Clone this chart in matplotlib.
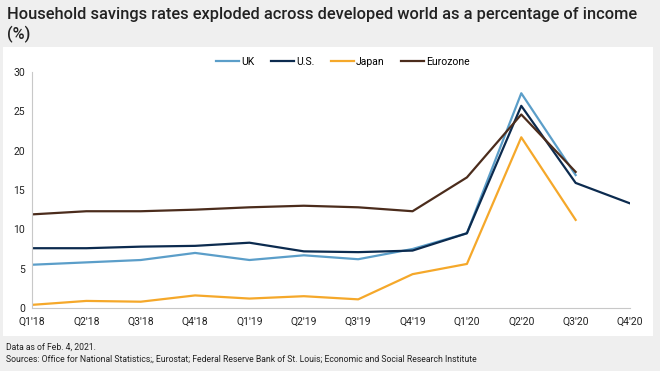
# Household savings rates chart

import numpy as np
import matplotlib.pyplot as plt
from matplotlib.patches import Rectangle

plt.rcParams['font.family'] = ['Roboto', 'DejaVu Sans']

# Data
quarters = ["Q1'18", "Q2'18", "Q3'18", "Q4'18", "Q1'19", "Q2'19",
            "Q3'19", "Q4'19", "Q1'20", "Q2'20", "Q3'20", "Q4'20"]
uk = [5.5, 5.8, 6.1, 7.0, 6.1, 6.7, 6.2, 7.5, 9.5, 27.3, 16.9]
us = [7.6, 7.6, 7.8, 7.9, 8.3, 7.2, 7.1, 7.3, 9.5, 25.7, 15.9, 13.3]
japan = [0.4, 0.9, 0.8, 1.6, 1.2, 1.5, 1.1, 4.3, 5.6, 21.7, 11.2]
eurozone = [11.9, 12.3, 12.3, 12.5, 12.8, 13.0, 12.8, 12.3, 16.6, 24.6, 17.3]

fig = plt.figure(figsize=(6.6, 3.71), dpi=100)
fig.patch.set_facecolor('#efefef')

# white panel behind the chart
panel = Rectangle((3 / 660, 1 - 336 / 371), 650 / 660, 289 / 371,
                  transform=fig.transFigure, facecolor='white',
                  edgecolor='none', zorder=-5)
fig.add_artist(panel)

ax = fig.add_axes([32 / 660, 1 - 308 / 371, 598 / 660, 236 / 371])
ax.set_zorder(2)
ax.set_facecolor('white')

x = np.arange(len(quarters))
ax.plot(x[:len(uk)], uk, color='#5b9ec9', lw=1.6, label='UK')
ax.plot(x[:len(us)], us, color='#0c2b4f', lw=1.6, label='U.S.')
ax.plot(x[:len(japan)], japan, color='#f5a82a', lw=1.6, label='Japan')
ax.plot(x[:len(eurozone)], eurozone, color='#4b2c1c', lw=1.6, label='Eurozone')

ax.set_xlim(0, len(quarters) - 1)
ax.set_ylim(0, 30)
ax.set_yticks([0, 5, 10, 15, 20, 25, 30])
ax.set_xticks(x)
ax.set_xticklabels(quarters)
ax.tick_params(axis='both', labelsize=7.5, colors='#222222', length=0)
ax.tick_params(axis='y', pad=5)
ax.tick_params(axis='x', pad=6)
for side in ['top', 'right']:
    ax.spines[side].set_visible(False)
for side in ['left', 'bottom']:
    ax.spines[side].set_color('#c8c8c8')
    ax.spines[side].set_linewidth(0.8)

ax.legend(loc='lower center', bbox_to_anchor=(0.52, 1.0), ncol=4, frameon=False,
          fontsize=7.5, handlelength=2.2, handletextpad=0.2, columnspacing=1.6,
          borderaxespad=0.1)

fig.text(7 / 660, 1 - 15 / 371,
         'Household savings rates exploded across developed world as a percentage of income',
         fontsize=11.8, color='#222222', va='center', ha='left', weight='medium')
fig.text(7 / 660, 1 - 34 / 371, '(%)', fontsize=11.8, color='#222222',
         va='center', ha='left', weight='medium')

fig.text(6 / 660, 1 - 347 / 371, 'Data as of Feb. 4, 2021.', fontsize=6.2,
         color='#222222', va='center', ha='left')
fig.text(6 / 660, 1 - 359 / 371,
         'Sources: Office for National Statistics;, Eurostat; Federal Reserve Bank of St. Louis; '
         'Economic and Social Research Institute',
         fontsize=6.2, color='#222222', va='center', ha='left')

plt.savefig('out.png', dpi=100, facecolor=fig.get_facecolor())
